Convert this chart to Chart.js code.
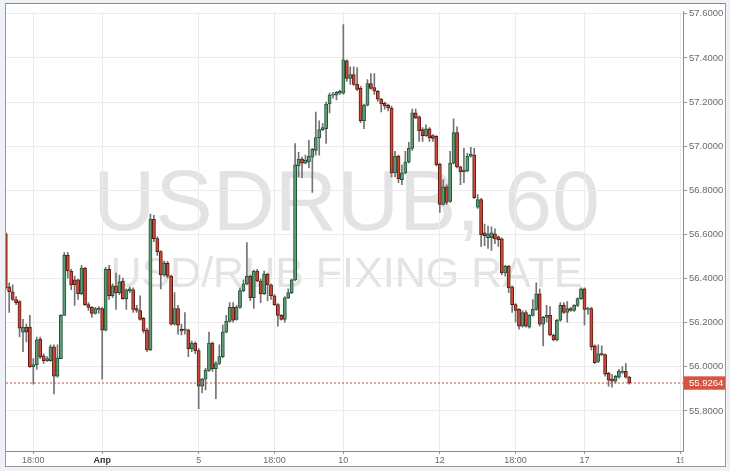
<!DOCTYPE html>
<html><head><meta charset="utf-8">
<script src="https://cdn.jsdelivr.net/npm/chart.js@4.4.1/dist/chart.umd.min.js"></script>
<style>
html,body{margin:0;padding:0;background:#eef1f5;width:730px;height:471px;overflow:hidden}
#frame{position:absolute;left:5px;top:3px;width:721px;height:464px;box-sizing:border-box;border:1px solid #9a9a9a;border-top-color:#8a8a8a;background:#fff}
canvas{display:block}
</style></head><body>
<div id="frame"><canvas id="c" width="719" height="462"></canvas></div>
<script>
// Hourly candles
const OPEN=[56.603,56.362,56.340,56.305,56.296,56.157,56.180,56.180,56.001,56.010,
56.126,56.050,56.028,56.028,56.091,55.957,56.037,56.233,56.505,56.434,
56.394,56.394,56.331,56.447,56.282,56.269,56.242,56.264,56.264,56.166,
56.442,56.322,56.367,56.336,56.389,56.309,56.345,56.349,56.264,56.255,
56.220,56.166,56.077,56.669,56.581,56.522,56.416,56.469,56.411,56.193,
56.264,56.171,56.171,56.166,56.082,56.108,56.073,55.912,55.944,55.984,
56.108,55.992,56.015,56.046,56.157,56.206,56.269,56.215,56.269,56.345,
56.376,56.411,56.313,56.434,56.389,56.331,56.420,56.371,56.322,56.282,
56.233,56.215,56.313,56.336,56.394,56.910,56.941,56.923,56.928,56.950,
56.981,57.039,57.075,57.079,57.191,57.231,57.231,57.240,57.240,57.387,
57.307,57.324,57.280,57.262,57.115,57.186,57.284,57.266,57.249,57.213,
57.195,57.186,57.173,56.879,56.955,56.848,56.879,56.928,56.990,57.151,
57.133,57.075,57.048,57.079,57.048,57.044,56.919,56.736,56.816,56.749,
56.923,57.062,56.906,56.883,56.888,56.955,56.959,56.723,56.758,56.607,
56.585,56.585,56.603,56.589,56.580,56.425,56.456,56.362,56.282,56.260,
56.184,56.246,56.180,56.233,56.260,56.331,56.193,56.224,56.233,56.144,
56.122,56.211,56.278,56.246,56.264,56.255,56.278,56.309,56.353,56.260,
56.264,56.095,56.024,56.059,56.055,55.970,55.944,55.935,55.953,55.975,
55.979,55.953];
const HIGH=[56.607,56.380,56.371,56.318,56.300,56.215,56.193,56.233,56.037,56.135,
56.135,56.059,56.046,56.100,56.100,56.100,56.237,56.518,56.518,56.442,
56.411,56.398,56.460,56.451,56.291,56.273,56.269,56.273,56.269,56.451,
56.460,56.376,56.425,56.416,56.402,56.353,56.362,56.358,56.278,56.322,
56.224,56.175,56.692,56.687,56.589,56.527,56.478,56.478,56.416,56.336,
56.278,56.193,56.246,56.171,56.117,56.113,56.082,55.948,55.993,56.157,
56.113,56.024,56.100,56.189,56.233,56.291,56.291,56.278,56.358,56.394,
56.563,56.416,56.438,56.442,56.398,56.434,56.425,56.376,56.327,56.287,
56.237,56.318,56.353,56.398,57.012,56.972,56.950,56.959,57.026,56.990,
57.155,57.115,57.102,57.200,57.240,57.244,57.249,57.253,57.551,57.391,
57.360,57.360,57.356,57.271,57.191,57.302,57.329,57.329,57.253,57.217,
57.200,57.191,57.182,56.977,56.959,56.915,56.977,57.017,57.168,57.168,
57.137,57.084,57.097,57.084,57.053,57.048,56.923,56.848,56.825,56.977,
57.124,57.088,56.910,56.990,56.968,56.995,56.990,56.781,56.763,56.647,
56.638,56.634,56.625,56.594,56.585,56.460,56.460,56.367,56.287,56.264,
56.255,56.255,56.237,56.305,56.380,56.353,56.229,56.278,56.273,56.148,
56.215,56.291,56.291,56.296,56.269,56.282,56.313,56.358,56.358,56.269,
56.269,56.100,56.100,56.095,56.059,55.975,55.966,55.961,55.988,56.001,
56.015,55.957];
const LOW=[56.349,56.246,56.300,56.282,56.135,56.068,56.113,55.997,55.921,55.988,
56.037,56.015,56.024,56.024,55.877,55.953,56.037,56.233,56.402,56.349,
56.278,56.305,56.327,56.278,56.255,56.224,56.238,56.242,55.944,56.162,
56.305,56.313,56.260,56.327,56.305,56.260,56.336,56.246,56.246,56.211,
56.153,56.068,56.073,56.567,56.505,56.353,56.411,56.402,56.189,56.189,
56.148,56.144,56.148,56.046,56.068,56.059,55.810,55.881,55.895,55.979,
55.979,55.855,56.010,56.041,56.153,56.202,56.202,56.211,56.264,56.340,
56.371,56.300,56.264,56.385,56.291,56.327,56.300,56.305,56.278,56.184,
56.211,56.202,56.309,56.331,56.389,56.861,56.857,56.919,56.901,56.790,
56.959,56.959,57.070,57.012,57.151,57.217,57.209,57.235,57.235,57.293,
57.280,57.275,57.253,57.106,57.079,57.182,57.257,57.235,57.204,57.155,
57.168,57.160,56.861,56.861,56.834,56.825,56.874,56.923,56.981,57.124,
57.021,57.021,57.044,57.021,57.021,56.910,56.700,56.732,56.736,56.745,
56.919,56.901,56.825,56.834,56.883,56.950,56.763,56.718,56.545,56.549,
56.536,56.527,56.558,56.545,56.416,56.411,56.336,56.246,56.202,56.171,
56.180,56.180,56.175,56.229,56.255,56.184,56.095,56.202,56.140,56.117,
56.117,56.206,56.242,56.202,56.251,56.251,56.273,56.305,56.189,56.237,
56.077,56.015,56.019,56.050,55.957,55.912,55.908,55.926,55.948,55.970,
55.948,55.921];
const CLOSE=[56.358,56.340,56.305,56.291,56.175,56.180,56.157,56.001,56.010,56.122,
56.046,56.028,56.037,56.091,55.957,56.041,56.233,56.505,56.434,56.371,
56.371,56.331,56.447,56.282,56.269,56.242,56.264,56.260,56.166,56.442,
56.322,56.367,56.336,56.385,56.309,56.349,56.353,56.260,56.255,56.215,
56.162,56.077,56.669,56.581,56.522,56.416,56.469,56.411,56.193,56.264,
56.189,56.162,56.166,56.082,56.108,56.073,55.912,55.944,55.984,56.108,
55.992,56.015,56.046,56.157,56.206,56.269,56.211,56.269,56.345,56.376,
56.411,56.313,56.434,56.389,56.331,56.420,56.371,56.322,56.282,56.233,
56.215,56.313,56.336,56.394,56.915,56.941,56.923,56.937,56.955,56.986,
57.039,57.075,57.084,57.191,57.231,57.235,57.244,57.249,57.391,57.307,
57.324,57.280,57.257,57.115,57.186,57.284,57.262,57.249,57.213,57.191,
57.182,57.173,56.879,56.955,56.852,56.879,56.928,56.990,57.151,57.128,
57.070,57.048,57.079,57.039,57.035,56.915,56.736,56.816,56.745,56.923,
57.062,56.906,56.883,56.892,56.955,56.964,56.767,56.758,56.598,56.594,
56.603,56.607,56.580,56.576,56.425,56.456,56.358,56.282,56.255,56.184,
56.246,56.184,56.233,56.260,56.331,56.193,56.224,56.233,56.144,56.122,
56.211,56.278,56.246,56.264,56.255,56.278,56.309,56.353,56.260,56.264,
56.091,56.019,56.059,56.055,55.966,55.939,55.935,55.957,55.979,55.979,
55.953,55.9264];

// Time axis: bar index of each labelled tick, and its text
const TICK_INDEX=[8,28,56,78,98,126,148,168,196];
const TICK_LABELS=['18:00','Апр','5','18:00','10','12','18:00','17','19'];
const MONTH_TICK=28;
// Price axis ticks
const PRICE_TICKS=[55.8,56.0,56.2,56.4,56.6,56.8,57.0,57.2,57.4,57.6];
const SYMBOL='USDRUB, 60';
const DESCRIPTION='USD/RUB FIXING RATE';

const LAST=CLOSE[CLOSE.length-1];
const X_MIN=0.07, X_MAX=196.6, Y_MIN=55.6183, Y_MAX=57.6094;
const UP='#5f9c77', DOWN='#c94b3a', UP_B='#225437', DOWN_B='#5b1a13', WICK='#737375';
const FONT='"Liberation Sans", Arial, sans-serif';
const GRID='#ebebeb', AXIS='#8c8c8c';

const idx=CLOSE.map((_,i)=>i);
const isUp=i=>CLOSE[i]>=OPEN[i];

const watermark={id:'watermark',beforeDraw(chart){
  const {ctx,chartArea:a}=chart;
  ctx.save();
  ctx.beginPath();ctx.rect(a.left,a.top,a.width,a.height);ctx.clip();
  ctx.fillStyle='#e3e3e3';ctx.textAlign='center';ctx.textBaseline='alphabetic';
  const cx=(a.left+a.right)/2+2;
  ctx.font='86px '+FONT;ctx.fillText(SYMBOL,cx,226);
  ctx.font='43px '+FONT;ctx.fillText(DESCRIPTION,cx,283);
  ctx.restore();
}};
const corner={id:'corner',afterDraw(chart){
  const {ctx,chartArea:a,width,height}=chart;
  ctx.save();ctx.fillStyle='#fff';
  ctx.fillRect(a.right+0.5,a.bottom+0.5,width-a.right,height-a.bottom);
  ctx.restore();
}};

new Chart(document.getElementById('c'),{
  type:'bar',
  data:{datasets:[
    {type:'line',label:'last',data:[{x:X_MIN,y:LAST},{x:X_MAX,y:LAST}],
     borderColor:DOWN,borderWidth:1,borderDash:[2,2],pointRadius:0,order:0},
    {label:'body',data:idx.map(i=>({x:i,y:[OPEN[i],CLOSE[i]]})),
     backgroundColor:c=>isUp(c.dataIndex)?UP:DOWN,
     borderColor:c=>isUp(c.dataIndex)?UP_B:DOWN_B,
     borderWidth:1,borderSkipped:false,barThickness:3.2,minBarLength:1,grouped:false,order:1},
    {label:'wick',data:idx.map(i=>({x:i,y:[LOW[i],HIGH[i]]})),
     backgroundColor:WICK,borderWidth:0,barThickness:1,grouped:false,order:2}
  ]},
  options:{
    responsive:false,animation:false,devicePixelRatio:1,
    layout:{padding:0},
    plugins:{legend:{display:false},tooltip:{enabled:false}},
    scales:{
      x:{type:'linear',position:'bottom',min:X_MIN,max:X_MAX,offset:false,
        afterBuildTicks:s=>{s.ticks=TICK_INDEX.map(v=>({value:v}));},
        afterFit:s=>{s.height=15;},
        grid:{color:GRID,offset:false,tickLength:3,tickColor:'#9a9a9a'},
        border:{color:AXIS},
        ticks:{autoSkip:false,maxRotation:0,minRotation:0,padding:1,
          color:c=>(c.tick&&c.tick.value===MONTH_TICK)?'#333':'#6a6a6a',
          font:c=>({family:FONT,size:9,weight:(c.tick&&c.tick.value===MONTH_TICK)?'bold':'normal'}),
          callback:v=>{const k=TICK_INDEX.indexOf(v);return k<0?null:TICK_LABELS[k];}}
      },
      y:{type:'linear',position:'right',min:Y_MIN,max:Y_MAX,beginAtZero:false,
        afterBuildTicks:s=>{s.ticks=PRICE_TICKS.map(v=>({value:v})).concat([{value:LAST}]);},
        afterFit:s=>{s.width=42;},
        grid:{color:c=>(c.tick&&c.tick.value===LAST)?'rgba(0,0,0,0)':GRID,tickLength:4,
          tickColor:c=>(c.tick&&c.tick.value===LAST)?DOWN:'#9a9a9a'},
        border:{color:AXIS},
        ticks:{autoSkip:false,padding:2,
          color:c=>(c.tick&&c.tick.value===LAST)?'#ffffff':'#6a6a6a',
          font:{family:FONT,size:9.5},
          showLabelBackdrop:c=>!!(c.tick&&c.tick.value===LAST),
          backdropColor:'#d75442',
          backdropPadding:{left:5,right:8,top:1,bottom:1},
          callback:v=>Number(v).toFixed(4)}
      }
    }
  },
  plugins:[watermark,corner]
});
</script>
</body></html>
